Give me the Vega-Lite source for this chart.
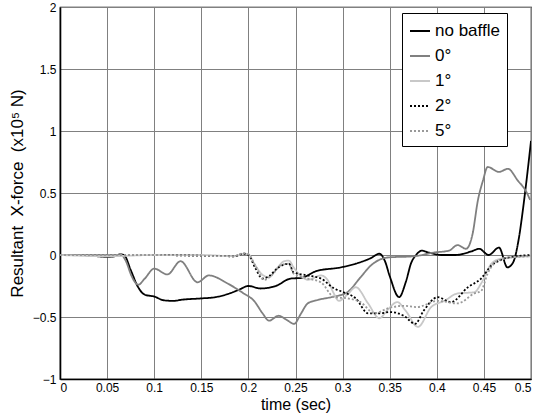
{
  "$schema": "https://vega.github.io/schema/vega-lite/v6.json",
  "width": 471,
  "height": 372,
  "autosize": {"type": "none"},
  "padding": {"left": 60, "top": 7, "right": 20, "bottom": 36},
  "background": "white",
  "config": {
    "font": "Liberation Sans",
    "view": {"stroke": "black", "strokeWidth": 1.2},
    "axis": {
      "grid": true,
      "gridColor": "#808080",
      "gridWidth": 1,
      "gridOpacity": 1,
      "domainColor": "black",
      "domainWidth": 1.6,
      "ticks": false,
      "labelFont": "Liberation Sans",
      "titleFont": "Liberation Sans",
      "labelFontSize": 12,
      "labelColor": "black",
      "titleColor": "black",
      "titleFontSize": 17,
      "titleFontWeight": "normal"
    },
    "legend": {
      "orient": "none",
      "legendX": 342,
      "legendY": 6,
      "strokeColor": "black",
      "fillColor": "white",
      "padding": 7,
      "symbolType": "stroke",
      "symbolSize": 400,
      "symbolStrokeWidth": 1.8,
      "labelFont": "Liberation Sans",
      "labelFontSize": 17,
      "labelColor": "black",
      "labelOffset": 4,
      "rowPadding": 6
    }
  },
  "data": {
    "values": [
      {"t": 0, "v": 0, "s": "no baffle"},
      {"t": 0.02, "v": 0, "s": "no baffle"},
      {"t": 0.04, "v": -0.01, "s": "no baffle"},
      {"t": 0.05, "v": -0.015, "s": "no baffle"},
      {"t": 0.058, "v": -0.01, "s": "no baffle"},
      {"t": 0.064, "v": 0.005, "s": "no baffle"},
      {"t": 0.068, "v": 0, "s": "no baffle"},
      {"t": 0.075, "v": -0.12, "s": "no baffle"},
      {"t": 0.083, "v": -0.26, "s": "no baffle"},
      {"t": 0.09, "v": -0.32, "s": "no baffle"},
      {"t": 0.1, "v": -0.335, "s": "no baffle"},
      {"t": 0.11, "v": -0.365, "s": "no baffle"},
      {"t": 0.12, "v": -0.37, "s": "no baffle"},
      {"t": 0.13, "v": -0.36, "s": "no baffle"},
      {"t": 0.15, "v": -0.35, "s": "no baffle"},
      {"t": 0.165, "v": -0.34, "s": "no baffle"},
      {"t": 0.18, "v": -0.31, "s": "no baffle"},
      {"t": 0.19, "v": -0.28, "s": "no baffle"},
      {"t": 0.2, "v": -0.25, "s": "no baffle"},
      {"t": 0.213, "v": -0.27, "s": "no baffle"},
      {"t": 0.229, "v": -0.25, "s": "no baffle"},
      {"t": 0.245, "v": -0.19, "s": "no baffle"},
      {"t": 0.256, "v": -0.185, "s": "no baffle"},
      {"t": 0.272, "v": -0.13, "s": "no baffle"},
      {"t": 0.298, "v": -0.1, "s": "no baffle"},
      {"t": 0.314, "v": -0.07, "s": "no baffle"},
      {"t": 0.33, "v": -0.025, "s": "no baffle"},
      {"t": 0.339, "v": 0.01, "s": "no baffle"},
      {"t": 0.345, "v": -0.05, "s": "no baffle"},
      {"t": 0.35, "v": -0.17, "s": "no baffle"},
      {"t": 0.36, "v": -0.34, "s": "no baffle"},
      {"t": 0.367, "v": -0.22, "s": "no baffle"},
      {"t": 0.373, "v": -0.06, "s": "no baffle"},
      {"t": 0.378, "v": 0, "s": "no baffle"},
      {"t": 0.384, "v": 0.035, "s": "no baffle"},
      {"t": 0.391, "v": 0.02, "s": "no baffle"},
      {"t": 0.405, "v": 0, "s": "no baffle"},
      {"t": 0.42, "v": 0, "s": "no baffle"},
      {"t": 0.437, "v": 0.03, "s": "no baffle"},
      {"t": 0.445, "v": 0.05, "s": "no baffle"},
      {"t": 0.455, "v": 0, "s": "no baffle"},
      {"t": 0.466, "v": 0.06, "s": "no baffle"},
      {"t": 0.475, "v": -0.1, "s": "no baffle"},
      {"t": 0.481, "v": -0.06, "s": "no baffle"},
      {"t": 0.487, "v": 0.13, "s": "no baffle"},
      {"t": 0.492, "v": 0.4, "s": "no baffle"},
      {"t": 0.496, "v": 0.65, "s": "no baffle"},
      {"t": 0.5, "v": 0.92, "s": "no baffle"},

      {"t": 0, "v": 0, "s": "0°"},
      {"t": 0.065, "v": 0, "s": "0°"},
      {"t": 0.07, "v": -0.05, "s": "0°"},
      {"t": 0.076, "v": -0.17, "s": "0°"},
      {"t": 0.083, "v": -0.24, "s": "0°"},
      {"t": 0.09, "v": -0.19, "s": "0°"},
      {"t": 0.1, "v": -0.11, "s": "0°"},
      {"t": 0.114, "v": -0.157, "s": "0°"},
      {"t": 0.128, "v": -0.05, "s": "0°"},
      {"t": 0.146, "v": -0.22, "s": "0°"},
      {"t": 0.158, "v": -0.165, "s": "0°"},
      {"t": 0.178, "v": -0.23, "s": "0°"},
      {"t": 0.195, "v": -0.31, "s": "0°"},
      {"t": 0.206, "v": -0.37, "s": "0°"},
      {"t": 0.215, "v": -0.47, "s": "0°"},
      {"t": 0.222, "v": -0.53, "s": "0°"},
      {"t": 0.232, "v": -0.49, "s": "0°"},
      {"t": 0.24, "v": -0.52, "s": "0°"},
      {"t": 0.2485, "v": -0.555, "s": "0°"},
      {"t": 0.256, "v": -0.47, "s": "0°"},
      {"t": 0.263, "v": -0.39, "s": "0°"},
      {"t": 0.275, "v": -0.36, "s": "0°"},
      {"t": 0.288, "v": -0.34, "s": "0°"},
      {"t": 0.305, "v": -0.3, "s": "0°"},
      {"t": 0.319, "v": -0.18, "s": "0°"},
      {"t": 0.33, "v": -0.085, "s": "0°"},
      {"t": 0.348, "v": -0.02, "s": "0°"},
      {"t": 0.376, "v": -0.01, "s": "0°"},
      {"t": 0.397, "v": 0.02, "s": "0°"},
      {"t": 0.413, "v": 0.035, "s": "0°"},
      {"t": 0.422, "v": 0.08, "s": "0°"},
      {"t": 0.431, "v": 0.05, "s": "0°"},
      {"t": 0.438, "v": 0.17, "s": "0°"},
      {"t": 0.4436, "v": 0.44, "s": "0°"},
      {"t": 0.449, "v": 0.6, "s": "0°"},
      {"t": 0.454, "v": 0.71, "s": "0°"},
      {"t": 0.466, "v": 0.67, "s": "0°"},
      {"t": 0.4755, "v": 0.695, "s": "0°"},
      {"t": 0.486, "v": 0.6, "s": "0°"},
      {"t": 0.495, "v": 0.51, "s": "0°"},
      {"t": 0.499, "v": 0.445, "s": "0°"},

      {"t": 0, "v": 0, "s": "1°"},
      {"t": 0.05, "v": -0.01, "s": "1°"},
      {"t": 0.1, "v": 0, "s": "1°"},
      {"t": 0.15, "v": 0, "s": "1°"},
      {"t": 0.185, "v": -0.01, "s": "1°"},
      {"t": 0.195, "v": 0.01, "s": "1°"},
      {"t": 0.2, "v": 0.005, "s": "1°"},
      {"t": 0.207, "v": -0.08, "s": "1°"},
      {"t": 0.215, "v": -0.16, "s": "1°"},
      {"t": 0.222, "v": -0.18, "s": "1°"},
      {"t": 0.23, "v": -0.11, "s": "1°"},
      {"t": 0.238, "v": -0.05, "s": "1°"},
      {"t": 0.243, "v": -0.045, "s": "1°"},
      {"t": 0.248, "v": -0.1, "s": "1°"},
      {"t": 0.256, "v": -0.17, "s": "1°"},
      {"t": 0.263, "v": -0.2, "s": "1°"},
      {"t": 0.277, "v": -0.165, "s": "1°"},
      {"t": 0.284, "v": -0.2, "s": "1°"},
      {"t": 0.29, "v": -0.3, "s": "1°"},
      {"t": 0.296, "v": -0.37, "s": "1°"},
      {"t": 0.305, "v": -0.32, "s": "1°"},
      {"t": 0.314, "v": -0.26, "s": "1°"},
      {"t": 0.327, "v": -0.39, "s": "1°"},
      {"t": 0.339, "v": -0.51, "s": "1°"},
      {"t": 0.348, "v": -0.44, "s": "1°"},
      {"t": 0.358, "v": -0.38, "s": "1°"},
      {"t": 0.367, "v": -0.45, "s": "1°"},
      {"t": 0.38, "v": -0.58, "s": "1°"},
      {"t": 0.394, "v": -0.42, "s": "1°"},
      {"t": 0.408, "v": -0.37, "s": "1°"},
      {"t": 0.422, "v": -0.31, "s": "1°"},
      {"t": 0.44, "v": -0.3, "s": "1°"},
      {"t": 0.447, "v": -0.23, "s": "1°"},
      {"t": 0.458, "v": -0.07, "s": "1°"},
      {"t": 0.468, "v": -0.03, "s": "1°"},
      {"t": 0.485, "v": -0.015, "s": "1°"},
      {"t": 0.5, "v": -0.01, "s": "1°"},

      {"t": 0, "v": 0, "s": "2°"},
      {"t": 0.1, "v": 0, "s": "2°"},
      {"t": 0.185, "v": -0.01, "s": "2°"},
      {"t": 0.195, "v": 0.01, "s": "2°"},
      {"t": 0.2, "v": 0, "s": "2°"},
      {"t": 0.207, "v": -0.1, "s": "2°"},
      {"t": 0.215, "v": -0.19, "s": "2°"},
      {"t": 0.222, "v": -0.17, "s": "2°"},
      {"t": 0.232, "v": -0.1, "s": "2°"},
      {"t": 0.243, "v": -0.07, "s": "2°"},
      {"t": 0.248, "v": -0.14, "s": "2°"},
      {"t": 0.263, "v": -0.165, "s": "2°"},
      {"t": 0.277, "v": -0.19, "s": "2°"},
      {"t": 0.291, "v": -0.27, "s": "2°"},
      {"t": 0.301, "v": -0.3, "s": "2°"},
      {"t": 0.314, "v": -0.35, "s": "2°"},
      {"t": 0.327, "v": -0.47, "s": "2°"},
      {"t": 0.339, "v": -0.47, "s": "2°"},
      {"t": 0.351, "v": -0.46, "s": "2°"},
      {"t": 0.365, "v": -0.49, "s": "2°"},
      {"t": 0.377, "v": -0.555, "s": "2°"},
      {"t": 0.386, "v": -0.45, "s": "2°"},
      {"t": 0.401, "v": -0.34, "s": "2°"},
      {"t": 0.415, "v": -0.38, "s": "2°"},
      {"t": 0.433, "v": -0.26, "s": "2°"},
      {"t": 0.447, "v": -0.19, "s": "2°"},
      {"t": 0.458, "v": -0.085, "s": "2°"},
      {"t": 0.468, "v": -0.04, "s": "2°"},
      {"t": 0.485, "v": -0.01, "s": "2°"},
      {"t": 0.5, "v": 0, "s": "2°"},

      {"t": 0, "v": 0, "s": "5°"},
      {"t": 0.1, "v": 0, "s": "5°"},
      {"t": 0.185, "v": -0.01, "s": "5°"},
      {"t": 0.195, "v": 0.015, "s": "5°"},
      {"t": 0.2, "v": 0.005, "s": "5°"},
      {"t": 0.207, "v": -0.08, "s": "5°"},
      {"t": 0.217, "v": -0.2, "s": "5°"},
      {"t": 0.225, "v": -0.16, "s": "5°"},
      {"t": 0.235, "v": -0.08, "s": "5°"},
      {"t": 0.243, "v": -0.07, "s": "5°"},
      {"t": 0.248, "v": -0.15, "s": "5°"},
      {"t": 0.263, "v": -0.19, "s": "5°"},
      {"t": 0.277, "v": -0.22, "s": "5°"},
      {"t": 0.291, "v": -0.34, "s": "5°"},
      {"t": 0.305, "v": -0.35, "s": "5°"},
      {"t": 0.319, "v": -0.38, "s": "5°"},
      {"t": 0.334, "v": -0.47, "s": "5°"},
      {"t": 0.348, "v": -0.43, "s": "5°"},
      {"t": 0.365, "v": -0.41, "s": "5°"},
      {"t": 0.379, "v": -0.42, "s": "5°"},
      {"t": 0.401, "v": -0.37, "s": "5°"},
      {"t": 0.422, "v": -0.39, "s": "5°"},
      {"t": 0.44, "v": -0.31, "s": "5°"},
      {"t": 0.447, "v": -0.29, "s": "5°"},
      {"t": 0.454, "v": -0.15, "s": "5°"},
      {"t": 0.465, "v": -0.045, "s": "5°"},
      {"t": 0.48, "v": -0.02, "s": "5°"},
      {"t": 0.5, "v": -0.01, "s": "5°"}
    ]
  },
  "mark": {"type": "line", "interpolate": "monotone", "strokeWidth": 1.8, "clip": true},
  "encoding": {
    "x": {
      "field": "t",
      "type": "quantitative",
      "scale": {"domain": [0, 0.5], "nice": false},
      "axis": {"values": [0, 0.05, 0.1, 0.15, 0.2, 0.25, 0.3, 0.35, 0.4, 0.45, 0.5], "format": "~g", "title": "time (sec)", "labelPadding": 3, "titlePadding": 3, "titleFontSize": 16}
    },
    "y": {
      "field": "v",
      "type": "quantitative",
      "scale": {"domain": [-1, 2], "nice": false},
      "axis": {"values": [-1, -0.5, 0, 0.5, 1, 1.5, 2], "format": "~g", "title": "Resultant\u00a0 X-force\u00a0 (x10⁵ N)", "labelPadding": 4, "titlePadding": 6}
    },
    "color": {
      "field": "s",
      "type": "nominal",
      "scale": {"domain": ["no baffle", "0°", "1°", "2°", "5°"], "range": ["#000000", "#808080", "#c8c8c8", "#000000", "#999999"]},
      "legend": {"title": null}
    },
    "strokeDash": {
      "field": "s",
      "type": "nominal",
      "scale": {"domain": ["no baffle", "0°", "1°", "2°", "5°"], "range": [[1, 0], [1, 0], [1, 0], [2, 2], [2, 2]]},
      "legend": {"title": null}
    }
  }
}
